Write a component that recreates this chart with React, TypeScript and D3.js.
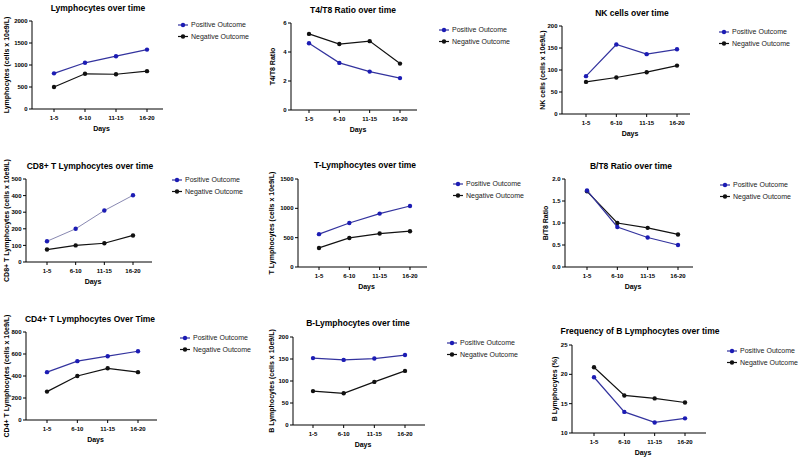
import React, { useEffect, useRef } from 'react';
import * as d3 from 'd3';

const days = ['1-5', '6-10', '11-15', '16-20'];
const seriesNames = ['Positive Outcome', 'Negative Outcome'];

const titles = [
  'Lymphocytes over time', 'T4/T8 Ratio over time', 'NK cells over time',
  'CD8+ T Lymphocytes over time', 'T-Lymphocytes over time', 'B/T8  Ratio over time',
  'CD4+ T Lymphocytes Over Time', 'B-Lymphocytes over time', 'Frequency of B Lymphocytes over time',
];
const yLabels = [
  'Lymphocytes (cells x 10e9/L)', 'T4/T8 Ratio', 'NK cells (cells x 10e9/L)',
  'CD8+ T Lymphocytes (cells x 10e9/L)', 'T Lymphocytes (cells x 10e9/L)', 'B/T8  Ratio',
  'CD4+ T Lymphocytes (cells x 10e9/L)', 'B Lymphocytes (cells x 10e9/L)', 'B Lymphocytes (%)',
];

// y tick values per panel
const yTicks = [
  [0, 500, 1000, 1500, 2000],
  [0, 2, 4, 6],
  [0, 50, 100, 150, 200],
  [0, 100, 200, 300, 400, 500],
  [0, 500, 1000, 1500],
  [0, 0.5, 1.0, 1.5, 2.0],
  [0, 200, 400, 600, 800],
  [0, 50, 100, 150, 200],
  [10, 15, 20, 25],
];

// series values (positive, negative)
const lymphPos = [810, 1050, 1200, 1350];
const lymphNeg = [500, 800, 790, 860];
const t4t8Pos = [4.6, 3.25, 2.65, 2.2];
const t4t8Neg = [5.25, 4.55, 4.75, 3.2];
const nkPos = [86, 158, 136, 147];
const nkNeg = [73, 83, 95, 110];
const cd8Pos = [125, 200, 310, 402];
const cd8Neg = [75, 100, 113, 160];
const tLymPos = [560, 750, 910, 1040];
const tLymNeg = [325, 495, 570, 610];
const bt8Pos = [1.74, 0.91, 0.67, 0.5];
const bt8Neg = [1.72, 1.0, 0.89, 0.74];
const cd4Pos = [435, 535, 580, 625];
const cd4Neg = [258, 400, 470, 435];
const bLymPos = [152, 148, 151, 159];
const bLymNeg = [77, 72, 98, 123];
const bFreqPos = [19.5, 13.6, 11.8, 12.5];
const bFreqNeg = [21.2, 16.4, 15.9, 15.2];

const posSeries = [lymphPos, t4t8Pos, nkPos, cd8Pos, tLymPos, bt8Pos, cd4Pos, bLymPos, bFreqPos];
const negSeries = [lymphNeg, t4t8Neg, nkNeg, cd8Neg, tLymNeg, bt8Neg, cd4Neg, bLymNeg, bFreqNeg];

// layout of each panel (pixel positions)
const layouts = [
  { ax: 32, top: 21, bot: 109, p0: 54, p3: 147, end: 163, tx: 98, ty: 10.5, lx: 191, ly: 25, ylx: 7 },
  { ax: 291, top: 23, bot: 110, p0: 309, p3: 400, end: 417, tx: 353, ty: 12.5, lx: 452, ly: 30, ylx: 273 },
  { ax: 562, top: 26, bot: 114, p0: 586, p3: 677, end: 690, tx: 632, ty: 16, lx: 732, ly: 32, ylx: 543 },
  { ax: 26, top: 179, bot: 262, p0: 47, p3: 133, end: 152, tx: 90, ty: 169, lx: 185, ly: 180, ylx: 7 },
  { ax: 298, top: 179, bot: 267, p0: 319, p3: 410, end: 427, tx: 365, ty: 168, lx: 466, ly: 184, ylx: 272 },
  { ax: 565, top: 179, bot: 267, p0: 587, p3: 678, end: 693, tx: 631, ty: 168.5, lx: 733, ly: 185, ylx: 546 },
  { ax: 26, top: 332, bot: 420, p0: 47, p3: 138, end: 157, tx: 90, ty: 322, lx: 193, ly: 338, ylx: 7 },
  { ax: 293, top: 337, bot: 425, p0: 313, p3: 405, end: 425, tx: 358, ty: 326, lx: 460, ly: 343, ylx: 272 },
  { ax: 572, top: 345, bot: 433, p0: 594, p3: 685, end: 706, tx: 640, ty: 334, lx: 740, ly: 351, ylx: 555 },
];

const FONT = '"Liberation Sans", Arial, sans-serif';
const BLUE_MARK = '#1c1cb4';
const BLUE_LINE = '#33339e';
const BLACK = '#111111';

const App = () => {
  const svgRef = useRef<SVGSVGElement>(null);

  useEffect(() => {
    const svg = d3.select(svgRef.current);
    svg.selectAll('*').remove();

    layouts.forEach((L, i) => {
      const ticks = yTicks[i];
      const g = svg.append('g').style('font-family', FONT).style('white-space', 'pre');

      const x = d3.scalePoint<string>().domain(days).range([L.p0, L.p3]);
      const y = d3.scaleLinear()
        .domain([ticks[0], ticks[ticks.length - 1]])
        .range([L.bot, L.top]);

      // title
      g.append('text')
        .attr('x', L.tx)
        .attr('y', L.ty)
        .attr('text-anchor', 'middle')
        .style('font-size', '8.5px')
        .style('font-weight', 'bold')
        .text(titles[i]);

      // y axis
      g.append('line')
        .attr('x1', L.ax).attr('x2', L.ax)
        .attr('y1', L.top).attr('y2', L.bot)
        .attr('stroke', '#000').attr('stroke-width', 1);
      const fmt = i === 5 ? d3.format('.1f') : d3.format('d');
      ticks.forEach(t => {
        g.append('line')
          .attr('x1', L.ax - 3).attr('x2', L.ax)
          .attr('y1', y(t)).attr('y2', y(t))
          .attr('stroke', '#000').attr('stroke-width', 1);
        g.append('text')
          .attr('x', L.ax - 4.5)
          .attr('y', y(t))
          .attr('dy', '0.35em')
          .attr('text-anchor', 'end')
          .style('font-size', '6px')
          .style('font-weight', 'bold')
          .text(fmt(t));
      });

      // x axis
      g.append('line')
        .attr('x1', L.ax).attr('x2', L.end)
        .attr('y1', L.bot).attr('y2', L.bot)
        .attr('stroke', '#000').attr('stroke-width', 1);
      days.forEach(d => {
        g.append('line')
          .attr('x1', x(d)).attr('x2', x(d))
          .attr('y1', L.bot).attr('y2', L.bot + 3)
          .attr('stroke', '#000').attr('stroke-width', 1);
        g.append('text')
          .attr('x', x(d))
          .attr('y', L.bot + 10.5)
          .attr('text-anchor', 'middle')
          .style('font-size', '6px')
          .style('font-weight', 'bold')
          .text(d);
      });
      g.append('text')
        .attr('x', (L.ax + L.end) / 2 + 4)
        .attr('y', L.bot + 21.5)
        .attr('text-anchor', 'middle')
        .style('font-size', '7px')
        .style('font-weight', 'bold')
        .text('Days');

      // y label
      g.append('text')
        .attr('transform', `translate(${L.ylx},${(L.top + L.bot) / 2}) rotate(-90)`)
        .attr('dy', '0.35em')
        .attr('text-anchor', 'middle')
        .style('font-size', '7px')
        .style('font-weight', 'bold')
        .text(yLabels[i]);

      const line = d3.line<number>()
        .x((_, j) => x(days[j]) as number)
        .y(v => y(v));

      const series = [
        { vals: negSeries[i], stroke: BLACK, fill: BLACK, w: 1.2 },
        { vals: posSeries[i], stroke: i === 3 ? '#7a7aa8' : BLUE_LINE, fill: BLUE_MARK, w: i === 3 ? 0.9 : 1.2 },
      ];
      series.forEach(s => {
        g.append('path')
          .attr('d', line(s.vals))
          .attr('fill', 'none')
          .attr('stroke', s.stroke)
          .attr('stroke-width', s.w);
        g.selectAll(null)
          .data(s.vals)
          .enter()
          .append('circle')
          .attr('cx', (_, j) => x(days[j]) as number)
          .attr('cy', v => y(v))
          .attr('r', 2.2)
          .attr('fill', s.fill);
      });

      // legend
      seriesNames.forEach((name, k) => {
        const ly = L.ly + k * 11.5;
        const col = k === 0 ? BLUE_MARK : BLACK;
        g.append('line')
          .attr('x1', L.lx - 13).attr('x2', L.lx - 3)
          .attr('y1', ly).attr('y2', ly)
          .attr('stroke', k === 0 ? BLUE_LINE : BLACK)
          .attr('stroke-width', 1.2);
        g.append('circle')
          .attr('cx', L.lx - 8)
          .attr('cy', ly)
          .attr('r', 2.2)
          .attr('fill', col);
        g.append('text')
          .attr('x', L.lx)
          .attr('y', ly)
          .attr('dy', '0.35em')
          .style('font-size', '7px')
          .style('fill', '#222')
          .text(name);
      });
    });
  }, []);

  return (
    <div style={{ position: 'absolute', left: 0, top: 0 }}>
      <svg ref={svgRef} width={800} height={460} style={{ display: 'block', background: '#fff' }}></svg>
    </div>
  );
};

export default App;
